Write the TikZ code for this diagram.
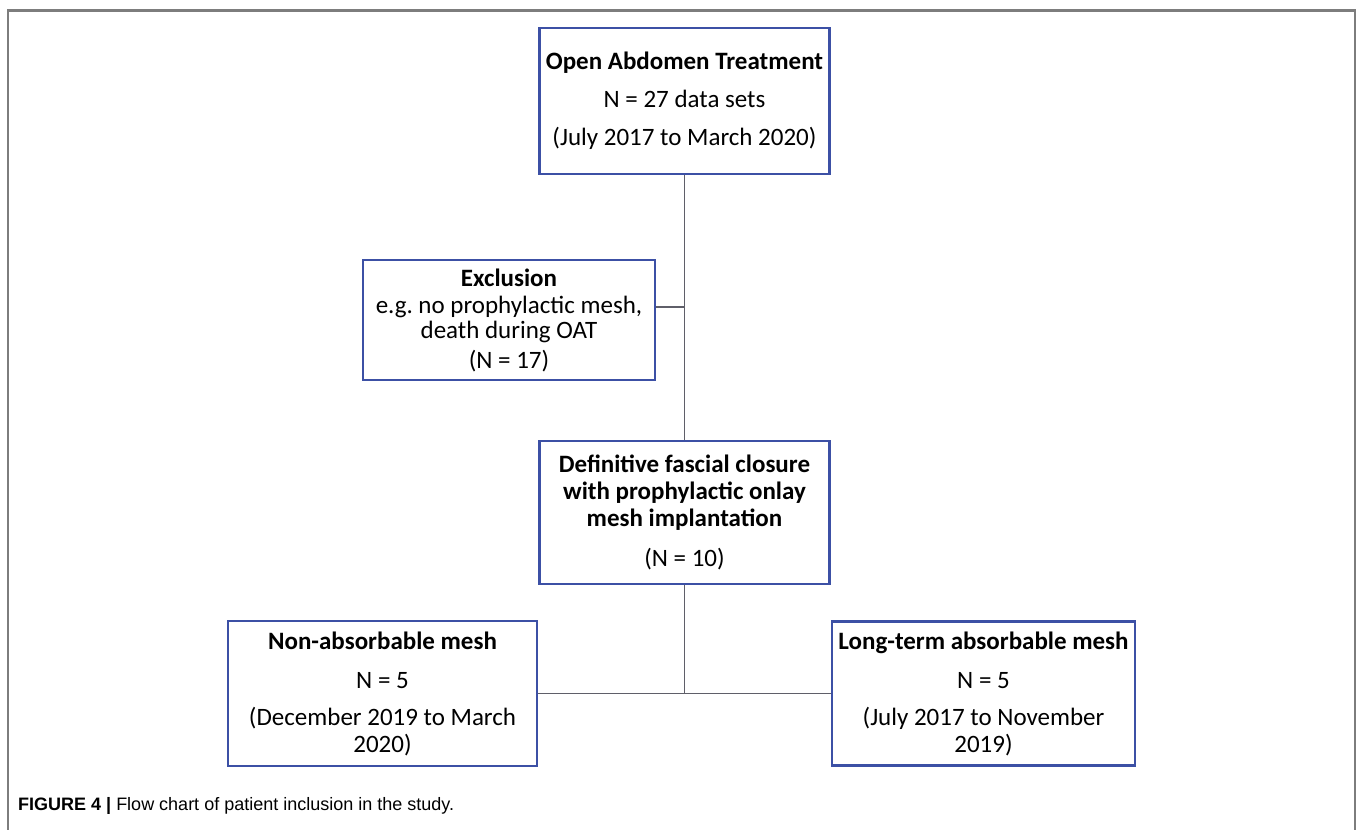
\documentclass[tikz,border=0pt]{standalone}
\usepackage{fontspec}
\setmainfont{Carlito}
\newfontfamily\capfont{Liberation Sans}
\definecolor{boxblue}{RGB}{60,80,165}
\definecolor{linegray}{RGB}{95,95,105}
\definecolor{framegray}{RGB}{125,125,125}
\begin{document}
\begin{tikzpicture}[x=1pt,y=-1pt,
		box/.style={draw=boxblue,line width=2.2pt,fill=white,align=center,inner sep=0pt,font=\fontsize{25}{27}\selectfont},
		link/.style={draw=linegray,line width=1.4pt}]
		\useasboundingbox (0,0) rectangle (1358,830);
		\draw[framegray,line width=2.5pt] (8,830)--(8,10.5)--(1355,10.5)--(1355,830);
		\node[box,minimum width=290pt,minimum height=146pt] (oat) at (684.5,101)
			{\textbf{Open Abdomen Treatment}\\[11pt]N = 27 data sets\\[11pt](July 2017 to March 2020)};
		\node[box,minimum width=292pt,minimum height=120pt] (excl) at (509,320)
			{\textbf{Exclusion}\\[0pt]e.g.\ no prophylactic mesh,\\[-2pt]death during OAT\\[3pt](N = 17)};
		\node[box,minimum width=290pt,minimum height=143pt] (fdc) at (684.5,512.5)
			{\textbf{Definitive fascial closure}\\\textbf{with prophylactic onlay}\\\textbf{mesh implantation}\\[13pt](N = 10)};
		\node[box,minimum width=309pt,minimum height=145pt] (nonabs) at (382.5,693.5)
			{\textbf{Non-absorbable mesh}\\[12pt]N = 5\\[10pt](December 2019 to March\\2020)};
		\node[box,minimum width=303pt,minimum height=144pt] (ltabs) at (983.5,693.5)
			{\textbf{Long-term absorbable mesh}\\[12pt]N = 5\\[10pt](July 2017 to November\\2019)};
		% connectors
		\coordinate (j1) at (684.5,307);
		\draw[link] (oat.south)--(fdc.north);
		\draw[link] (excl.east |- j1)--(j1);
		\draw[link] (fdc.south)--(fdc.south |- nonabs.east);
		\draw[link] (nonabs.east)--(ltabs.west);
		\node[anchor=base west,inner sep=0pt,font=\capfont\fontsize{18}{21}\selectfont] (cap) at (18,810)
			{\textbf{FIGURE 4 |} Flow chart of patient inclusion in the study.};
	\end{tikzpicture}
\end{document}
